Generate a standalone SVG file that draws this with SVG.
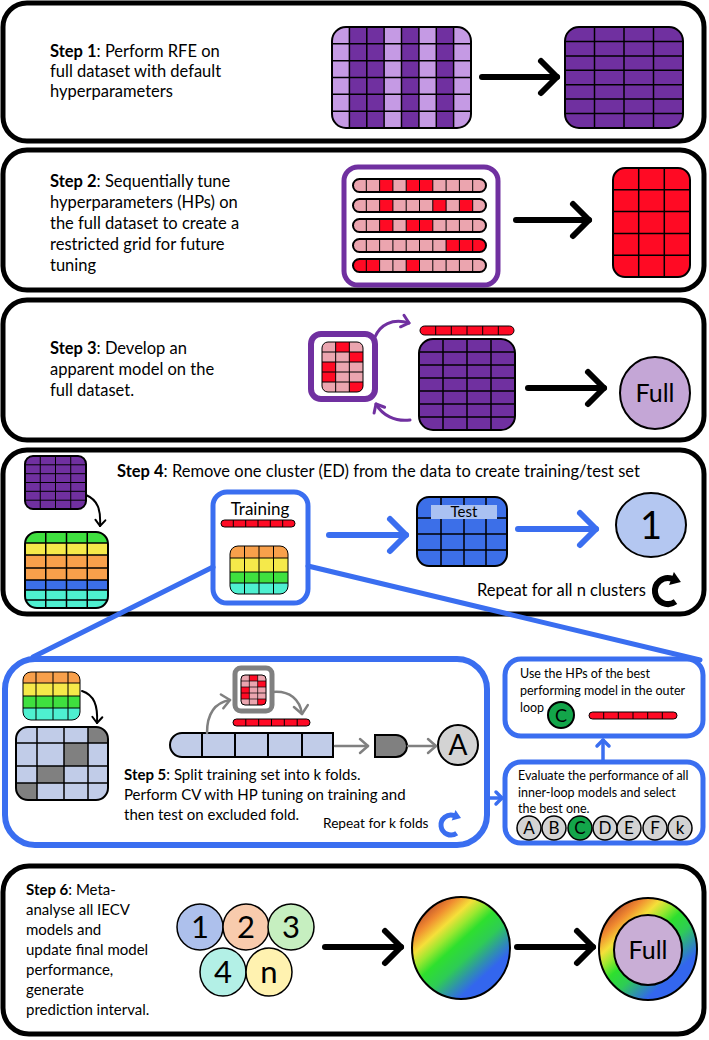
<svg xmlns="http://www.w3.org/2000/svg" width="709" height="1040" viewBox="0 0 709 1040">
<defs>
<style>
.panel{fill:#fff;stroke:#000;stroke-width:5}
.bbox{fill:#fff;stroke:#3A6EF0;stroke-width:5}
.t{font-family:Lato,'Liberation Sans',sans-serif;font-size:16.5px;fill:#000}
.m{font-size:15px}
.s{font-size:12.5px}
.k{font-size:13.7px}
.b{font-weight:bold}
.big{font-family:Lato,'Liberation Sans',sans-serif;fill:#000;text-anchor:middle}
.gl{fill:none;stroke:#000;stroke-width:1.5}
.gt{fill:none;stroke:#000;stroke-width:1}
.go{fill:none;stroke:#000;stroke-width:2}
.pd{fill:#7030A0}
.pl{fill:#C59AE4}
.rd{fill:#FF0A24}
.pk{fill:#EBA5AF}
.gr{fill:#3FE03F}
.ye{fill:#F5E94A}
.or{fill:#F8A04B}
.bl{fill:#3C6FE8}
.tl{fill:#4EF0D0}
.lb{fill:#C1CCE8}
.gy{fill:#808080}
.arrow{fill:none;stroke:#000;stroke-width:6;stroke-linecap:round}
.barrow{fill:none;stroke:#3A6EF0;stroke-width:6;stroke-linecap:round}
.parrow{fill:none;stroke:#7030A0;stroke-width:3;stroke-linecap:round}
.garrow{fill:none;stroke:#808080;stroke-width:2.5;stroke-linecap:round}
.karrow{fill:none;stroke:#000;stroke-width:2;stroke-linecap:round}
.zoom{fill:none;stroke:#3A6EF0;stroke-width:5;stroke-linecap:round}
</style>
<marker id="ahK" viewBox="-20 -20 24 40" refX="0" refY="0" markerWidth="24" markerHeight="40" markerUnits="userSpaceOnUse" orient="auto" overflow="visible"><path d="M-16,-16 L0,0 L-16,16" fill="none" stroke="#000" stroke-width="6" stroke-linecap="round" stroke-linejoin="round"/></marker>
<marker id="ahB" viewBox="-20 -20 24 40" refX="0" refY="0" markerWidth="24" markerHeight="40" markerUnits="userSpaceOnUse" orient="auto" overflow="visible"><path d="M-16,-16 L0,0 L-16,16" fill="none" stroke="#3A6EF0" stroke-width="6" stroke-linecap="round" stroke-linejoin="round"/></marker>
<marker id="ahP" viewBox="-10 -10 12 20" refX="0" refY="0" markerWidth="12" markerHeight="20" markerUnits="userSpaceOnUse" orient="auto" overflow="visible"><path d="M-7,-6 L0,0 L-7,6" fill="none" stroke="#7030A0" stroke-width="3" stroke-linecap="round" stroke-linejoin="round"/></marker>
<marker id="ahG" viewBox="-10 -10 12 20" refX="0" refY="0" markerWidth="12" markerHeight="20" markerUnits="userSpaceOnUse" orient="auto" overflow="visible"><path d="M-8,-7 L0,0 L-8,7" fill="none" stroke="#808080" stroke-width="2.5" stroke-linecap="round" stroke-linejoin="round"/></marker>
<marker id="ahKs" viewBox="-10 -10 12 20" refX="0" refY="0" markerWidth="12" markerHeight="20" markerUnits="userSpaceOnUse" orient="auto" overflow="visible"><path d="M-6,-5 L0,0 L-6,5" fill="none" stroke="#000" stroke-width="2" stroke-linecap="round" stroke-linejoin="round"/></marker>
<marker id="ahBs" viewBox="-10 -10 12 20" refX="0" refY="0" markerWidth="12" markerHeight="20" markerUnits="userSpaceOnUse" orient="auto" overflow="visible"><path d="M-6,-6 L0,0 L-6,6" fill="none" stroke="#3A6EF0" stroke-width="3.5" stroke-linecap="round" stroke-linejoin="round"/></marker>
<linearGradient id="rainbow" x1="0.15" y1="0.1" x2="0.85" y2="0.9">
<stop offset="0" stop-color="#C0502A"/>
<stop offset="0.12" stop-color="#F08A30"/>
<stop offset="0.24" stop-color="#F5E03A"/>
<stop offset="0.34" stop-color="#9BE830"/>
<stop offset="0.45" stop-color="#2EE02E"/>
<stop offset="0.6" stop-color="#2ECC55"/>
<stop offset="0.74" stop-color="#2F8FB0"/>
<stop offset="0.84" stop-color="#3366EE"/>
<stop offset="1" stop-color="#3366EE"/>
</linearGradient>
<clipPath id="cpS1L"><rect x="332" y="27" width="139" height="101" rx="14"/></clipPath>
<clipPath id="cpS2"><rect x="353" y="179" width="133" height="13" rx="6.5"/><rect x="353" y="199" width="133" height="13" rx="6.5"/><rect x="353" y="219" width="133" height="13" rx="6.5"/><rect x="353" y="239" width="133" height="13" rx="6.5"/><rect x="353" y="259" width="133" height="13" rx="6.5"/></clipPath>
<clipPath id="cpS3s"><rect x="322" y="342" width="41" height="50" rx="6"/></clipPath>
<clipPath id="cpS4c"><rect x="25" y="532" width="83" height="76" rx="12"/></clipPath>
<clipPath id="cpS4t"><rect x="230" y="546" width="58" height="48" rx="8"/></clipPath>
<clipPath id="cpS5c"><rect x="23" y="672" width="57" height="48" rx="8"/></clipPath>
<clipPath id="cpS5b"><rect x="16" y="727" width="92" height="73" rx="12"/></clipPath>
<clipPath id="cpS5s"><rect x="241" y="675" width="25" height="30" rx="4"/></clipPath>
</defs>

<rect width="709" height="1040" fill="#fff"/>

<!-- Step 1 -->
<g id="step1">
<rect class="panel" x="3" y="3" width="701" height="138" rx="24"/>
<text class="t" x="50" y="57"><tspan class="b">Step 1</tspan>: Perform RFE on</text>
<text class="t" x="50" y="77">full dataset with default</text>
<text class="t" x="50" y="97">hyperparameters</text>
<g clip-path="url(#cpS1L)">
<rect class="pl" x="332" y="27" width="139" height="101"/>
<rect class="pd" x="349.4" y="27" width="34.75" height="101"/>
<rect class="pd" x="401.5" y="27" width="17.4" height="101"/>
<rect class="pd" x="436.25" y="27" width="17.4" height="101"/>
<path class="gl" d="M349.4,27V128M366.8,27V128M384.1,27V128M401.5,27V128M418.9,27V128M436.3,27V128M453.6,27V128M332,43.8H471M332,60.7H471M332,77.5H471M332,94.3H471M332,111.2H471"/>
</g>
<rect class="go" x="332" y="27" width="139" height="101" rx="14"/>
<rect class="pd" x="565" y="27" width="118" height="101" rx="14"/>
<path class="gl" d="M594.5,27V128M624,27V128M653.5,27V128M565,41.4H683M565,55.9H683M565,70.3H683M565,84.7H683M565,99.1H683M565,113.6H683"/>
<rect class="go" x="565" y="27" width="118" height="101" rx="14"/>
</g>

<!-- Step 2 -->
<g id="step2">
<rect class="panel" x="3" y="150" width="701" height="140" rx="24"/>
<text class="t" x="50" y="187"><tspan class="b">Step 2</tspan>: Sequentially tune</text>
<text class="t" x="50" y="208">hyperparameters (HPs) on</text>
<text class="t" x="50" y="229">the full dataset to create a</text>
<text class="t" x="50" y="250">restricted grid for future</text>
<text class="t" x="50" y="271">tuning</text>
<rect x="344" y="167" width="154" height="118" rx="14" fill="#fff" stroke="#7030A0" stroke-width="5"/>
<g clip-path="url(#cpS2)">
<rect class="pk" x="353" y="179" width="133" height="93"/>
<rect class="rd" x="379.6" y="179" width="13.3" height="13"/>
<rect class="rd" x="406.2" y="179" width="26.6" height="13"/>
<rect class="rd" x="379.6" y="199" width="13.3" height="13"/>
<rect class="rd" x="432.8" y="199" width="13.3" height="13"/>
<rect class="rd" x="459.4" y="199" width="13.3" height="13"/>
<rect class="rd" x="379.6" y="219" width="13.3" height="13"/>
<rect class="rd" x="406.2" y="219" width="26.6" height="13"/>
<rect class="rd" x="446.1" y="239" width="39.9" height="13"/>
<rect class="rd" x="353" y="259" width="26.6" height="13"/>
<rect class="rd" x="406.2" y="259" width="13.3" height="13"/>
<path class="gt" d="M366.3,179V272M379.6,179V272M392.9,179V272M406.2,179V272M419.5,179V272M432.8,179V272M446.1,179V272M459.4,179V272M472.7,179V272"/>
</g>
<g class="go">
<rect x="353" y="179" width="133" height="13" rx="6.5"/>
<rect x="353" y="199" width="133" height="13" rx="6.5"/>
<rect x="353" y="219" width="133" height="13" rx="6.5"/>
<rect x="353" y="239" width="133" height="13" rx="6.5"/>
<rect x="353" y="259" width="133" height="13" rx="6.5"/>
</g>
<rect class="rd" x="613" y="168" width="77" height="109" rx="12"/>
<path class="gl" d="M638.7,168V277M664.3,168V277M613,189.8H690M613,211.6H690M613,233.4H690M613,255.2H690"/>
<rect class="go" x="613" y="168" width="77" height="109" rx="12"/>
</g>

<!-- Step 3 -->
<g id="step3">
<rect class="panel" x="3" y="300" width="701" height="140" rx="24"/>
<text class="t" x="50" y="354"><tspan class="b">Step 3</tspan>: Develop an</text>
<text class="t" x="50" y="375">apparent model on the</text>
<text class="t" x="50" y="396">full dataset.</text>
<rect x="311" y="334" width="64" height="65" rx="10" fill="#fff" stroke="#7030A0" stroke-width="6"/>
<g clip-path="url(#cpS3s)">
<rect class="pk" x="322" y="342" width="41" height="50"/>
<rect class="rd" x="335.67" y="342" width="13.67" height="10"/>
<rect class="rd" x="349.33" y="352" width="13.67" height="10"/>
<rect class="rd" x="322" y="362" width="13.67" height="20"/>
<rect class="rd" x="349.33" y="382" width="13.67" height="10"/>
<path class="gt" d="M335.67,342V392M349.33,342V392M322,352H363M322,362H363M322,372H363M322,382H363"/>
</g>
<rect class="gt" x="322" y="342" width="41" height="50" rx="6"/>
<rect class="rd" x="420" y="326" width="94" height="9" rx="4.5"/>
<path class="gt" d="M435.7,326V335M451.3,326V335M467,326V335M482.7,326V335M498.3,326V335"/>
<rect class="gt" x="420" y="326" width="94" height="9" rx="4.5"/>
<rect class="pd" x="419" y="339" width="96" height="91" rx="14"/>
<path class="gl" d="M443,339V430M467,339V430M491,339V430M419,352H515M419,365H515M419,378H515M419,391H515M419,404H515M419,417H515"/>
<rect class="go" x="419" y="339" width="96" height="91" rx="14"/>
<ellipse cx="655" cy="393" rx="35" ry="36" fill="#C4A6D6" stroke="#000" stroke-width="2"/>
<text class="big" x="655" y="402" font-size="25">Full</text>
</g>

<!-- Step 4 -->
<g id="step4">
<rect class="panel" x="3" y="450" width="701" height="164" rx="24"/>
<text class="t" x="117" y="477"><tspan class="b">Step 4</tspan>: Remove one cluster (ED) from the data to create training/test set</text>
<rect class="pd" x="25" y="456" width="61" height="53" rx="8"/>
<path class="gt" d="M40.25,456V509M55.5,456V509M70.75,456V509M25,464.8H86M25,473.7H86M25,482.5H86M25,491.3H86M25,500.2H86"/>
<rect class="go" x="25" y="456" width="61" height="53" rx="8"/>
<g clip-path="url(#cpS4c)">
<rect class="gr" x="25" y="532" width="83" height="11"/>
<rect class="ye" x="25" y="543" width="83" height="12"/>
<rect class="or" x="25" y="555" width="83" height="25"/>
<rect class="bl" x="25" y="580" width="83" height="10"/>
<rect class="tl" x="25" y="590" width="83" height="18"/>
<path class="gl" d="M45.75,532V608M66.5,532V608M87.25,532V608M25,543H108M25,555H108M25,568H108M25,580H108M25,590H108M25,600H108"/>
</g>
<rect class="go" x="25" y="532" width="83" height="76" rx="12"/>
<rect class="bbox" x="213" y="492" width="95" height="111" rx="14"/>
<text class="big" x="260" y="515" font-size="17">Training</text>
<rect class="rd" x="221" y="520" width="74" height="7" rx="3.5"/>
<path class="gt" d="M233.3,520V527M245.7,520V527M258,520V527M270.3,520V527M282.7,520V527"/>
<rect class="gt" x="221" y="520" width="74" height="7" rx="3.5"/>
<g clip-path="url(#cpS4t)">
<rect class="or" x="230" y="546" width="58" height="12"/>
<rect class="ye" x="230" y="558" width="58" height="14"/>
<rect class="gr" x="230" y="572" width="58" height="11"/>
<rect class="tl" x="230" y="583" width="58" height="11"/>
<path class="gt" d="M244.5,546V594M259,546V594M273.5,546V594M230,558H288M230,572H288M230,583H288"/>
</g>
<rect class="gt" x="230" y="546" width="58" height="48" rx="8"/>
<rect class="bl" x="417" y="497" width="90" height="69" rx="12"/>
<path class="gl" d="M441,497V566M464,497V566M486,497V566M417,518H507M417,534H507M417,550H507"/>
<rect x="431" y="505" width="66" height="14" fill="#AAC1F2"/>
<text class="big" x="464" y="517" font-size="15">Test</text>
<rect class="go" x="417" y="497" width="90" height="69" rx="12"/>
<ellipse cx="651" cy="525" rx="35" ry="32" fill="#B4C7F1" stroke="#000" stroke-width="2"/>
<text class="big" x="651" y="539" font-size="38">1</text>
<text class="t" x="477" y="596">Repeat for all n clusters</text>
<path d="M675.5,601.6 A13,13 0 1 1 672.4,578.8" fill="none" stroke="#000" stroke-width="6"/>
<polygon points="680.9,581.9 673.9,571.9 669.1,585.1" fill="#000"/>
</g>

<!-- Step 5 -->
<g id="step5">
<rect x="5" y="659" width="482" height="186" rx="30" fill="#fff" stroke="#3A6EF0" stroke-width="6"/>
<g clip-path="url(#cpS5c)">
<rect class="or" x="23" y="672" width="57" height="11"/>
<rect class="ye" x="23" y="683" width="57" height="13"/>
<rect class="gr" x="23" y="696" width="57" height="12"/>
<rect class="tl" x="23" y="708" width="57" height="12"/>
<path class="gt" d="M36,672V720M53,672V720M68,672V720M23,683H80M23,696H80M23,708H80"/>
</g>
<rect class="gt" x="23" y="672" width="57" height="48" rx="8"/>
<g clip-path="url(#cpS5b)">
<rect class="lb" x="16" y="727" width="92" height="73"/>
<rect class="gy" x="88" y="727" width="20" height="16"/>
<rect class="gy" x="64" y="743" width="24" height="23"/>
<rect class="gy" x="37" y="766" width="27" height="17"/>
<rect class="gy" x="16" y="783" width="21" height="17"/>
<path class="gl" d="M37,727V800M64,727V800M88,727V800M16,743H108M16,766H108M16,783H108"/>
</g>
<rect class="go" x="16" y="727" width="92" height="73" rx="12"/>
<rect x="235" y="668" width="37" height="43" rx="6" fill="#fff" stroke="#808080" stroke-width="5"/>
<g clip-path="url(#cpS5s)">
<rect class="pk" x="241" y="675" width="25" height="30"/>
<rect class="rd" x="249.33" y="675" width="8.33" height="6"/>
<rect class="rd" x="257.67" y="681" width="8.33" height="6"/>
<rect class="rd" x="241" y="687" width="8.33" height="12"/>
<rect class="rd" x="257.67" y="699" width="8.33" height="6"/>
<path d="M249.33,675V705M257.67,675V705M241,681H266M241,687H266M241,693H266M241,699H266" fill="none" stroke="#000" stroke-width="0.7"/>
</g>
<rect class="gt" x="241" y="675" width="25" height="30" rx="4"/>
<rect class="rd" x="233" y="719" width="77" height="7" rx="3.5"/>
<path class="gt" d="M245.8,719V726M258.7,719V726M271.5,719V726M284.3,719V726M297.2,719V726"/>
<rect class="gt" x="233" y="719" width="77" height="7" rx="3.5"/>
<path class="lb" d="M182,733H333V757H182A12,12 0 0 1 182,733Z" stroke="#000" stroke-width="2"/>
<path class="go" d="M202,733V757M235,733V757M268,733V757M302,733V757"/>
<path class="gy" d="M375,735H396A11,11 0 0 1 396,757H375Z" stroke="#000" stroke-width="2"/>
<circle cx="458" cy="745" r="20" fill="#D3D3D3" stroke="#000" stroke-width="2"/>
<text class="big" x="458" y="755" font-size="28">A</text>
<text class="t m" x="124" y="780"><tspan class="b">Step 5</tspan>: Split training set into k folds.</text>
<text class="t m" x="124" y="800">Perform CV with HP tuning on training and</text>
<text class="t m" x="124" y="820">then test on excluded fold.</text>
<text class="t k" x="323" y="828">Repeat for k folds</text>
<path d="M456.7,833.2 A10,10 0 1 1 454.4,815.6" fill="none" stroke="#3A6EF0" stroke-width="5"/>
<polygon points="461,818 455.5,810.1 451.7,820.5" fill="#3A6EF0"/>
</g>

<g id="best-hp">
<rect class="bbox" x="505" y="659" width="198" height="77" rx="16"/>
<text class="t s" x="520" y="678">Use the HPs of the best</text>
<text class="t s" x="520" y="695">performing model in the outer</text>
<text class="t s" x="520" y="712">loop</text>
<circle cx="561" cy="715" r="13" fill="#13A54A" stroke="#000" stroke-width="2"/>
<text class="big" x="561" y="722" font-size="18">C</text>
<rect class="rd" x="589" y="712" width="88" height="7" rx="3.5"/>
<path class="gt" d="M603.7,712V719M618.3,712V719M633,712V719M647.7,712V719M662.3,712V719"/>
<rect class="gt" x="589" y="712" width="88" height="7" rx="3.5"/>
</g>

<g id="evaluate">
<rect class="bbox" x="505" y="762" width="198" height="81" rx="16"/>
<text class="t s" x="518" y="780">Evaluate the performance of all</text>
<text class="t s" x="518" y="797">inner-loop models and select</text>
<text class="t s" x="518" y="813">the best one.</text>
<g stroke="#000" stroke-width="1.5" fill="#D3D3D3">
<circle cx="529" cy="828" r="12"/>
<circle cx="554" cy="828" r="12"/>
<circle cx="580" cy="828" r="12" fill="#13A54A"/>
<circle cx="605" cy="828" r="12"/>
<circle cx="629" cy="828" r="12"/>
<circle cx="655" cy="828" r="12"/>
<circle cx="680" cy="828" r="12"/>
</g>
<g class="big" font-size="17">
<text x="529" y="834">A</text>
<text x="554" y="834">B</text>
<text x="580" y="834">C</text>
<text x="605" y="834">D</text>
<text x="629" y="834">E</text>
<text x="655" y="834">F</text>
<text x="680" y="834">k</text>
</g>
</g>

<!-- Step 6 -->
<g id="step6">
<rect class="panel" x="3" y="866" width="701" height="168" rx="26"/>
<text class="t m" x="26" y="895"><tspan class="b">Step 6</tspan>: Meta-</text>
<text class="t m" x="26" y="915">analyse all IECV</text>
<text class="t m" x="26" y="935">models and</text>
<text class="t m" x="26" y="955">update final model</text>
<text class="t m" x="26" y="975">performance,</text>
<text class="t m" x="26" y="995">generate</text>
<text class="t m" x="26" y="1015">prediction interval.</text>
<g stroke="#000" stroke-width="1.5">
<ellipse cx="200" cy="927" rx="23" ry="23" fill="#ADC0EC"/>
<ellipse cx="246" cy="927" rx="23" ry="23" fill="#F8CBAD"/>
<ellipse cx="291" cy="927" rx="23" ry="23" fill="#C6EFC0"/>
<ellipse cx="223" cy="972" rx="23" ry="24" fill="#B3F0E6"/>
<ellipse cx="269" cy="972" rx="23" ry="24" fill="#FFF2B0"/>
</g>
<g class="big" font-size="31">
<text x="200" y="938">1</text>
<text x="246" y="938">2</text>
<text x="291" y="938">3</text>
<text x="223" y="983">4</text>
<text x="269" y="983">n</text>
</g>
<ellipse cx="461" cy="948" rx="49" ry="51" fill="url(#rainbow)" stroke="#000" stroke-width="2"/>
<ellipse cx="648" cy="949" rx="49" ry="51" fill="url(#rainbow)" stroke="#000" stroke-width="2"/>
<ellipse cx="648" cy="950" rx="34" ry="35" fill="#C9AED6" stroke="#000" stroke-width="2"/>
<text class="big" x="648" y="959" font-size="25">Full</text>
</g>

<g id="connectors">
<path class="arrow" d="M482,77H557" marker-end="url(#ahK)"/>
<path class="arrow" d="M516,220H589" marker-end="url(#ahK)"/>
<path class="arrow" d="M528,388H604" marker-end="url(#ahK)"/>
<path class="parrow" d="M375,337C380,325 392,318 409,323" marker-end="url(#ahP)"/>
<path class="parrow" d="M410,420C395,422 382,415 376,404" marker-end="url(#ahP)"/>
<path class="karrow" d="M86,495C98,500 101,510 100,526" marker-end="url(#ahKs)"/>
<path class="barrow" d="M329,535H406" marker-end="url(#ahB)"/>
<path class="barrow" d="M518,529H596" marker-end="url(#ahB)"/>
<path class="zoom" d="M213,567L33,657"/>
<path class="zoom" d="M308,566L700,660"/>
<path class="karrow" d="M82,691C94,695 98,705 97,723" marker-end="url(#ahKs)"/>
<path class="garrow" d="M207,733C207,715 213,703 230,700" marker-end="url(#ahG)"/>
<path class="garrow" d="M272,692C290,690 300,700 302,714" marker-end="url(#ahG)"/>
<path class="garrow" d="M335,746H368" marker-end="url(#ahG)"/>
<path class="garrow" d="M408,746H436" marker-end="url(#ahG)"/>
<path d="M489,798H502" fill="none" stroke="#3A6EF0" stroke-width="3.5" stroke-linecap="round" marker-end="url(#ahBs)"/>
<path d="M603,761V740" fill="none" stroke="#3A6EF0" stroke-width="3.5" stroke-linecap="round" marker-end="url(#ahBs)"/>
<path class="arrow" d="M325,947H401" marker-end="url(#ahK)"/>
<path class="arrow" d="M517,947H593" marker-end="url(#ahK)"/>
</g>
</svg>
